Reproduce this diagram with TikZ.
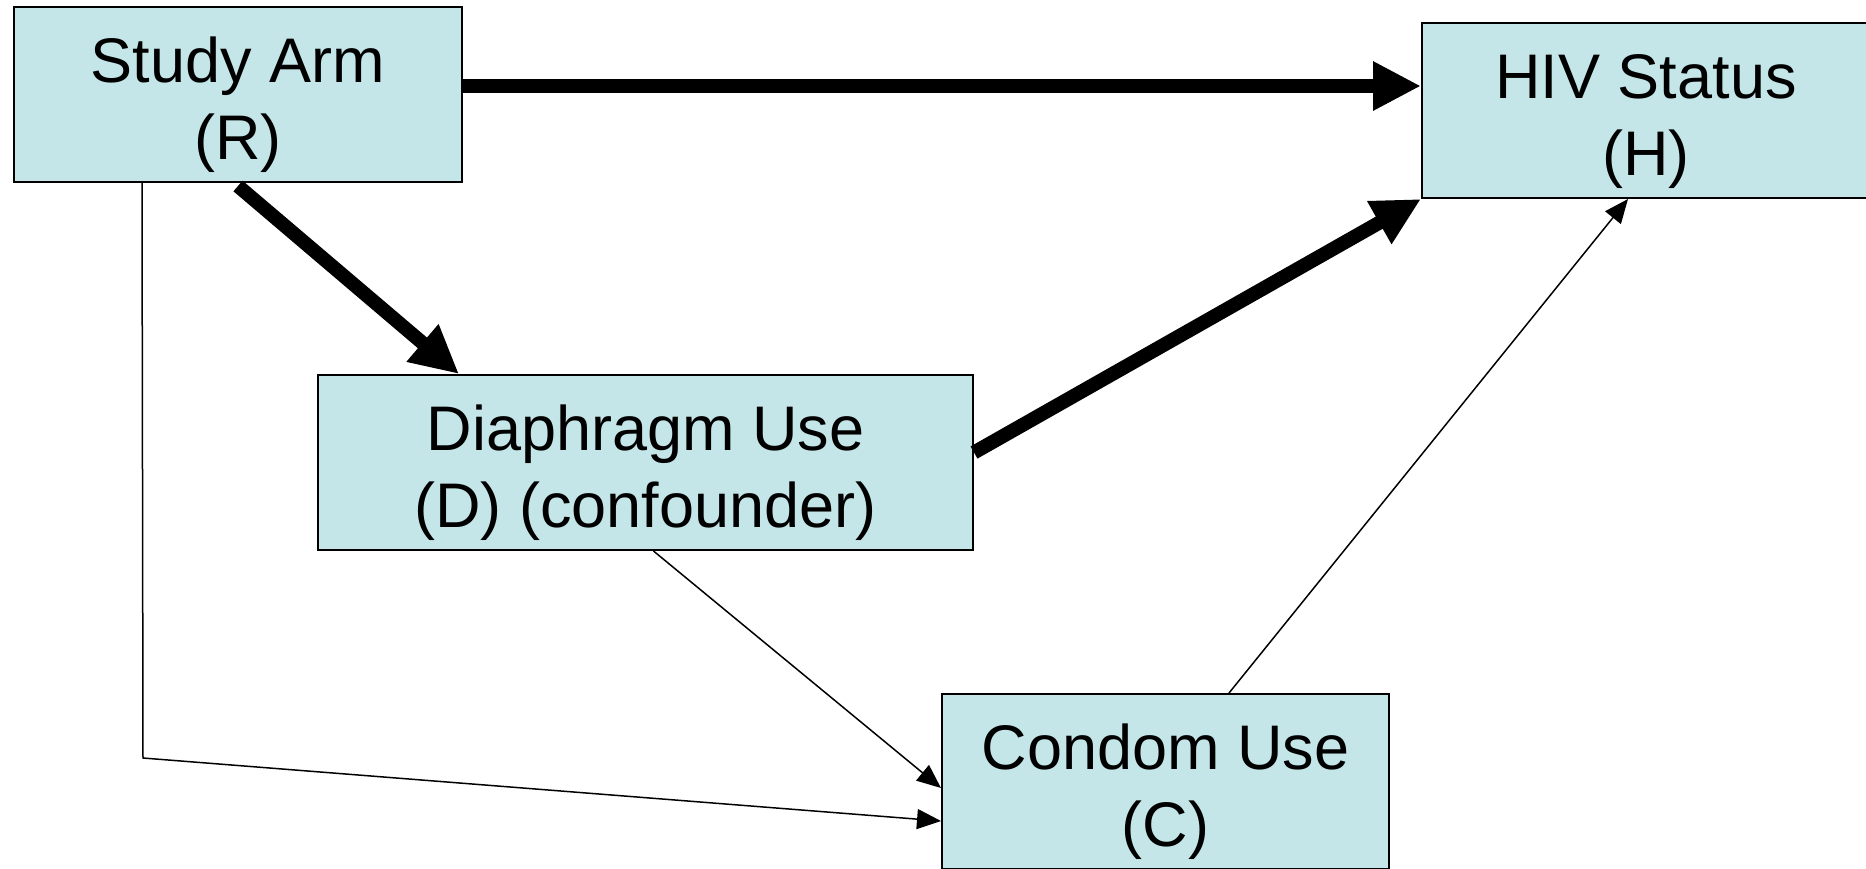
\documentclass[tikz,border=0pt]{standalone}
\usepackage{fontspec}
\setmainfont{Liberation Sans}
\usetikzlibrary{arrows.meta,calc}
\definecolor{boxfill}{RGB}{196,230,232}
\newcommand{\myfirstline}{\rule{0pt}{33pt}}
\begin{document}
\begin{tikzpicture}[x=0.5pt,y=-0.5pt,
  varbox/.style={draw=black,line width=1pt,fill=boxfill,inner sep=0pt,
    align=center,font=\fontsize{31.5pt}{38.5pt}\selectfont},
  thickarrow/.style={line width=7pt,-{Triangle[length=24pt,width=23pt]}},
  thinarrow/.style={line width=0.75pt,-{Triangle[length=12pt,width=10pt]}}]
\useasboundingbox (0,0) rectangle (1866,868);
\clip (0,0) rectangle (1866,868);
\node[varbox,minimum width=224pt,minimum height=87.5pt] (R) at (238,94.5) {\myfirstline Study Arm\\(R)};
\node[varbox,minimum width=224pt,minimum height=87.5pt] (H) at (1646,110.5) {\myfirstline HIV Status\\(H)};
\node[varbox,minimum width=327.5pt,minimum height=87.5pt] (D) at (645.5,462.5) {\myfirstline Diaphragm Use\\(D) (confounder)};
\node[varbox,minimum width=223.5pt,minimum height=87.5pt] (C) at (1165.5,781.5) {\myfirstline Condom Use\\(C)};
\coordinate (bend) at (143,758);
\draw[thickarrow] ($(R.east)+(0,-8.5)$) -- ($(H.west)+(0,-24.5)$);
\draw[thickarrow] ($(R.south)+(0,3)$) -- ($(D.north west)+(142,0)$);
\draw[thickarrow] ($(D.east)+(0,-10)$) -- (H.south west);
\draw[thinarrow] ($(D.south)+(8,0)$) -- ($(C.west)+(0,6.5)$);
\draw[thinarrow] ($(C.north)+(63.5,0)$) -- ($(H.south)+(-18,0)$);
\draw[thinarrow] ($(R.south west)+(129,0)$) -- (bend) -- ($(C.west)+(0,39.5)$);
\end{tikzpicture}
\end{document}
